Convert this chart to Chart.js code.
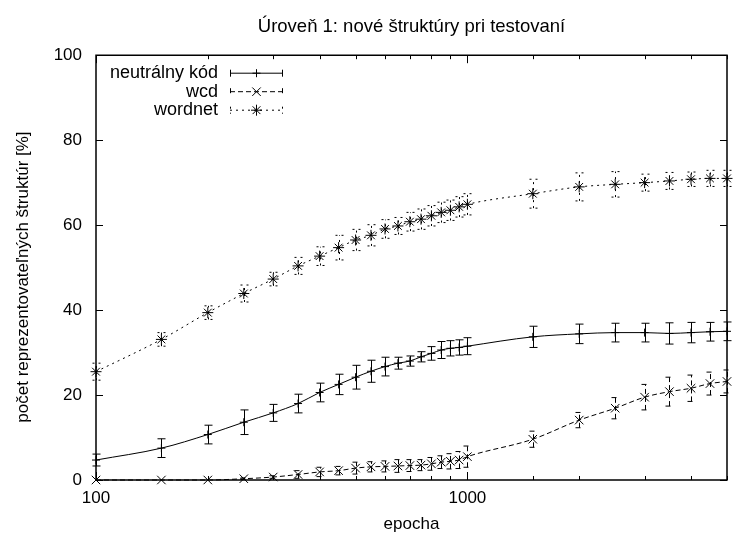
<!DOCTYPE html>
<html>
<head>
<meta charset="utf-8">
<script src="https://cdn.jsdelivr.net/npm/chart.js@4/dist/chart.umd.min.js"></script>
<style>
  html, body { margin: 0; padding: 0; background: #fff; overflow: hidden; }
  canvas { display: block; }
</style>
</head>
<body>
<canvas id="chart" width="735" height="534" style="width:735px;height:534px"></canvas>
<script>
// epochs (log x axis)
const epochs = [100, 150, 200, 250, 300, 350, 400, 450, 500, 550, 600, 650, 700, 750, 800, 850, 900, 950, 1000,
  1500, 2000, 2500, 3000, 3500, 4000, 4500, 5000];

const seriesNames = ["neutrálny kód", "wcd", "wordnet"];

const neutralValues = [4.7, 7.5, 10.7, 13.6, 15.8, 18.0, 20.6, 22.5, 24.2, 25.6, 26.7, 27.5, 28.0, 29.0, 29.8, 30.6, 31.0, 31.2, 31.5,
  33.7, 34.4, 34.7, 34.7, 34.5, 34.7, 34.9, 35.0];
const neutralErr = [1.4, 2.2, 2.2, 2.9, 2.0, 2.2, 2.2, 2.4, 2.8, 2.6, 2.2, 1.4, 1.2, 1.2, 1.6, 2.0, 1.8, 1.8, 2.0,
  2.5, 2.3, 2.2, 2.2, 2.5, 2.4, 2.2, 2.2];

const wcdValues = [0, 0, 0, 0.3, 0.7, 1.3, 1.9, 2.2, 2.8, 3.1, 3.2, 3.3, 3.4, 3.5, 3.8, 4.2, 4.4, 4.7, 5.5,
  9.6, 14.1, 16.9, 19.5, 20.8, 21.6, 22.7, 23.2];
const wcdErr = [0, 0, 0, 0.2, 0.3, 0.9, 1.1, 1.0, 1.4, 1.2, 1.3, 1.5, 1.4, 1.3, 1.5, 1.5, 1.8, 2.0, 2.5,
  1.9, 1.8, 2.5, 3.0, 3.4, 3.1, 2.7, 2.7];

const wordnetValues = [25.5, 33.1, 39.4, 43.9, 47.3, 50.4, 52.7, 54.7, 56.5, 57.6, 59.1, 59.8, 60.8, 61.4, 62.2, 63.0, 63.5, 64.3, 64.9,
  67.4, 69.0, 69.6, 70.0, 70.4, 70.8, 71.0, 71.0];
const wordnetErr = [2.0, 1.6, 1.6, 2.0, 1.6, 2.0, 2.2, 2.9, 2.5, 2.5, 2.2, 2.0, 2.2, 2.4, 2.4, 2.4, 2.4, 2.4, 2.5,
  3.4, 3.3, 3.0, 2.0, 2.0, 1.7, 1.9, 1.9];

const yTicks = [0, 20, 40, 60, 80, 100];
const xLabels = [100, 1000];

const FONT = "'Liberation Sans', Arial, Helvetica, sans-serif";

function toPoints(values, errs) {
  return epochs.map((x, i) => ({ x: x, y: values[i], err: errs[i] }));
}

function makeSet(label, values, errs, dash, style, radius) {
  return {
    label: label,
    data: toPoints(values, errs),
    borderColor: "#000",
    borderWidth: 1,
    borderDash: dash,
    pointStyle: style,
    pointRadius: radius,
    pointBorderColor: "#000",
    pointBackgroundColor: "transparent",
    pointBorderWidth: 1,
    cubicInterpolationMode: "monotone",
    fill: false,
    clip: false,
  };
}

// vertical error bars with caps, in the dataset's dash style
const errorBars = {
  id: "errorBars",
  afterDatasetsDraw(chart) {
    const c = chart.ctx;
    const xs = chart.scales.x, ys = chart.scales.y;
    chart.data.datasets.forEach((ds) => {
      c.save();
      c.strokeStyle = "#000";
      c.lineWidth = 1;
      c.setLineDash(ds.borderDash || []);
      ds.data.forEach((p) => {
        if (!p.err) return;
        const px = Math.round(xs.getPixelForValue(p.x)) + 0.5;
        const y1 = ys.getPixelForValue(p.y - p.err);
        const y2 = ys.getPixelForValue(p.y + p.err);
        c.beginPath();
        c.moveTo(px, y1); c.lineTo(px, y2);
        c.moveTo(px - 4, y1); c.lineTo(px + 4, y1);
        c.moveTo(px - 4, y2); c.lineTo(px + 4, y2);
        c.stroke();
      });
      c.restore();
    });
  },
};

// gnuplot-like frame with inward ticks and the key
const frame = {
  id: "frame",
  afterDraw(chart) {
    const c = chart.ctx;
    const a = chart.chartArea;
    const xs = chart.scales.x, ys = chart.scales.y;
    c.save();
    c.strokeStyle = "#000";
    c.lineWidth = 1.5;
    c.beginPath();
    c.moveTo(a.left, a.top); c.lineTo(a.right, a.top);
    c.lineTo(a.right, a.bottom); c.lineTo(a.left, a.bottom); c.closePath();
    c.stroke();

    c.lineWidth = 1;
    c.beginPath();
    xs.ticks.forEach((t) => {
      const px = Math.round(xs.getPixelForValue(t.value)) + 0.5;
      const len = xLabels.includes(t.value) ? 8 : 4;
      c.moveTo(px, a.bottom); c.lineTo(px, a.bottom - len);
      c.moveTo(px, a.top); c.lineTo(px, a.top + len);
    });
    yTicks.forEach((v) => {
      const py = Math.round(ys.getPixelForValue(v)) + 0.5;
      c.moveTo(a.left, py); c.lineTo(a.left + 7, py);
      c.moveTo(a.right, py); c.lineTo(a.right - 7, py);
    });
    c.stroke();

    // key
    c.font = "18px " + FONT;
    c.fillStyle = "#000";
    c.textAlign = "right";
    c.textBaseline = "middle";
    chart.data.datasets.forEach((ds, i) => {
      const y = a.top + 18 + i * 18.5;
      const x0 = a.left + 134, x1 = a.left + 187, xm = (x0 + x1) / 2;
      c.fillText(ds.label, a.left + 122, y);
      c.save();
      c.setLineDash(ds.borderDash || []);
      c.beginPath();
      c.moveTo(x0, y); c.lineTo(x1, y);
      c.moveTo(x0 + 0.5, y - 3.5); c.lineTo(x0 + 0.5, y + 3.5);
      c.moveTo(x1 - 0.5, y - 3.5); c.lineTo(x1 - 0.5, y + 3.5);
      c.stroke();
      c.restore();
      Chart.helpers.drawPoint(c, { pointStyle: ds.pointStyle, radius: ds.pointRadius, rotation: 0, borderWidth: 1 }, xm, y);
    });
    c.restore();
  },
};

new Chart(document.getElementById("chart"), {
  type: "line",
  data: {
    datasets: [
      makeSet(seriesNames[0], neutralValues, neutralErr, [], "cross", 4),
      makeSet(seriesNames[1], wcdValues, wcdErr, [5, 3], "crossRot", 6),
      makeSet(seriesNames[2], wordnetValues, wordnetErr, [2, 4], "star", 5.5),
    ],
  },
  options: {
    responsive: false,
    devicePixelRatio: 1,
    animation: false,
    layout: { padding: 0 },
    plugins: {
      legend: { display: false },
      tooltip: { enabled: false },
      title: {
        display: true,
        fullSize: false,
        text: "Úroveň 1: nové štruktúry pri testovaní",
        color: "#000",
        font: { family: FONT, size: 18.5, weight: "normal" },
        padding: { top: 16, bottom: 17 },
      },
    },
    scales: {
      x: {
        type: "logarithmic",
        min: 100,
        max: 5000,
        grid: { display: false, drawTicks: false },
        border: { display: false },
        ticks: {
          color: "#000",
          font: { family: FONT, size: 17 },
          autoSkip: false,
          maxRotation: 0,
          padding: 8,
          callback: (v) => (xLabels.includes(v) ? String(v) : ""),
        },
        title: {
          display: true,
          text: "epocha",
          color: "#000",
          font: { family: FONT, size: 17 },
          padding: { top: 0, bottom: -1 },
        },
        afterFit: (s) => { s.height = 54; },
      },
      y: {
        min: 0,
        max: 100,
        grid: { display: false, drawTicks: false },
        border: { display: false },
        afterBuildTicks: (s) => { s.ticks = yTicks.map((v) => ({ value: v })); },
        ticks: {
          color: "#000",
          font: { family: FONT, size: 17 },
          padding: 14,
        },
        title: {
          display: true,
          text: "počet reprezentovateľných štruktúr [%]\u00a0\u00a0\u00a0\u00a0",
          color: "#000",
          font: { family: FONT, size: 17 },
          padding: { top: 13, bottom: 0 },
        },
        afterFit: (s) => { s.width = 96; },
      },
    },
  },
  plugins: [errorBars, frame],
});
</script>
</body>
</html>
